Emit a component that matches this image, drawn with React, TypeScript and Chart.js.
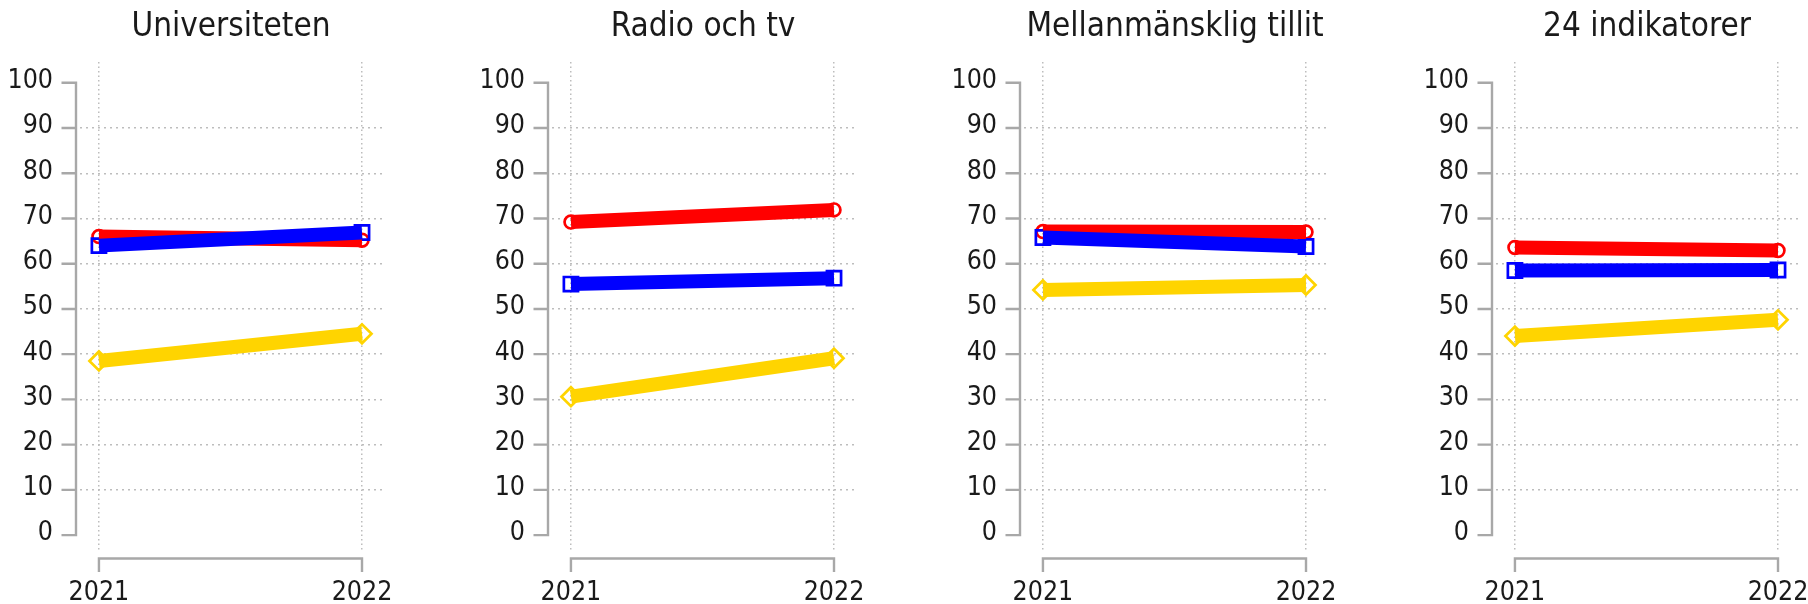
import React, { useEffect, useRef } from "react";
import { Chart, registerables } from "chart.js";
Chart.register(...registerables);

const titles = ["Universiteten", "Radio och tv", "Mellanmänsklig tillit", "24 indikatorer"];
const years = [2021, 2022];
const redSeries = [[66.0, 65.2], [69.2, 71.9], [67.1, 67.0], [63.6, 62.9]];
const blueSeries = [[64.0, 66.9], [55.5, 56.8], [65.8, 63.8], [58.5, 58.6]];
const yellowSeries = [[38.5, 44.5], [30.6, 39.1], [54.2, 55.3], [44.0, 47.6]];
const yTicks = [0, 10, 20, 30, 40, 50, 60, 70, 80, 90, 100];

const FONT = "'Liberation Sans Narrow', 'DejaVu Sans Condensed', 'Roboto', sans-serif";
const PANEL_W = 472;
const TOTAL_W = 1808;
const H = 604;
const AREA_RIGHT = 382;
const TEXT = "#1a1a1a";
const SPINE = "#a8a8a8";
const GRID = "#bdbdbd";

const COLORS = { red: "#ff0000", blue: "#0000ff", yellow: "#ffd400" };

const spinePlugin = {
  id: "spines",
  beforeDatasetsDraw(chart: any) {
    const { ctx, chartArea, scales } = chart;
    const x = scales.x;
    const y = scales.y;
    ctx.save();
    ctx.strokeStyle = SPINE;
    ctx.lineWidth = 2.4;
    ctx.lineCap = "butt";
    const sx = chartArea.left - 4;
    const yTop = y.getPixelForValue(yTicks[yTicks.length - 1]);
    const yBot = y.getPixelForValue(yTicks[0]);
    ctx.beginPath();
    ctx.moveTo(sx, yTop - 1.2);
    ctx.lineTo(sx, yBot + 1.2);
    yTicks.forEach((t) => {
      const py = y.getPixelForValue(t);
      ctx.moveTo(sx - 14.5, py);
      ctx.lineTo(sx, py);
    });
    ctx.stroke();
    const sy = chartArea.bottom + 8.5;
    const xl = x.getPixelForValue(years[0]);
    const xr = x.getPixelForValue(years[years.length - 1]);
    ctx.beginPath();
    ctx.moveTo(xl - 1.2, sy);
    ctx.lineTo(xr + 1.2, sy);
    years.forEach((yr) => {
      const px = x.getPixelForValue(yr);
      ctx.moveTo(px, sy);
      ctx.lineTo(px, sy + 13.5);
    });
    ctx.stroke();
    ctx.restore();
  },
};

function lineSet(label: string, values: number[], color: string, order: number) {
  return {
    label,
    data: values.map((v, i) => ({ x: years[i], y: v })),
    borderColor: color,
    backgroundColor: color,
    borderWidth: 14,
    pointRadius: 0,
    order,
    clip: false as any,
  };
}

function markerSet(label: string, values: number[], color: string, style: string, radius: number, order: number) {
  return {
    label,
    data: values.map((v, i) => ({ x: years[i], y: v })),
    showLine: false,
    pointStyle: style,
    pointRadius: radius,
    pointBorderWidth: 2.7,
    pointBorderColor: color,
    pointBackgroundColor: "rgba(0,0,0,0)",
    order,
    clip: false as any,
  };
}

function Panel({ index }: { index: number }) {
  const ref = useRef<HTMLCanvasElement | null>(null);
  const w = PANEL_W;
  useEffect(() => {
    if (!ref.current) return;
    const chart = new Chart(ref.current, {
      type: "line",
      data: {
        datasets: [
          lineSet("Röd", redSeries[index], COLORS.red, 3),
          lineSet("Blå", blueSeries[index], COLORS.blue, 2),
          lineSet("Gul", yellowSeries[index], COLORS.yellow, 1),
          markerSet("Röd markör", redSeries[index], COLORS.red, "circle", 6.4, 12),
          markerSet("Blå markör", blueSeries[index], COLORS.blue, "rect", 10, 11),
          markerSet("Gul markör", yellowSeries[index], COLORS.yellow, "rectRot", 9.5, 10),
        ] as any,
      },
      options: {
        animation: false,
        responsive: false,
        devicePixelRatio: 1,
        events: [],
        layout: { padding: { left: 0, right: w - AREA_RIGHT, top: 0, bottom: 0 } },
        plugins: {
          legend: { display: false },
          tooltip: { enabled: false },
          title: {
            display: true,
            text: titles[index],
            fullSize: false,
            color: TEXT,
            font: { family: FONT, size: 33, weight: "normal" as any, lineHeight: 1.2 },
            padding: { top: 8, bottom: 14.4 },
          },
        },
        scales: {
          x: {
            type: "linear",
            min: 2020.928,
            max: 2022.076,
            afterBuildTicks: (s: any) => {
              s.ticks = years.map((v) => ({ value: v }));
            },
            afterFit: (s: any) => {
              s.height = 54;
            },
            grid: {
              color: GRID,
              lineWidth: 1.5,
              drawTicks: false,
            },
            border: { display: false, dash: [1.5, 3] },
            ticks: {
              color: TEXT,
              font: { family: FONT, size: 26.5 },
              padding: 27,
              maxRotation: 0,
              autoSkip: false,
              callback: (v: any) => String(v),
            },
          },
          y: {
            type: "linear",
            min: -3.3,
            max: 104.6,
            afterBuildTicks: (s: any) => {
              s.ticks = yTicks.map((v) => ({ value: v }));
            },
            afterFit: (s: any) => {
              s.width = 80;
            },
            grid: {
              color: (c: any) =>
                c.tick && (c.tick.value === yTicks[0] || c.tick.value === yTicks[yTicks.length - 1])
                  ? "rgba(0,0,0,0)"
                  : GRID,
              lineWidth: 1.5,
              drawTicks: false,
            },
            border: { display: false, dash: [2, 4] },
            ticks: {
              color: TEXT,
              font: { family: FONT, size: 26.5 },
              padding: 27,
              labelOffset: -1.5,
              autoSkip: false,
              callback: (v: any) => String(v),
            },
          },
        },
      } as any,
      plugins: [spinePlugin],
    });
    return () => chart.destroy();
  }, [index, w]);
  return (
    <div style={{ position: "absolute", left: index * PANEL_W, top: 0, width: w, height: H }}>
      <canvas ref={ref} width={w} height={H} style={{ width: w, height: H, display: "block" }} />
    </div>
  );
}

export default function App() {
  useEffect(() => {
    document.body.style.margin = "0";
    document.body.style.background = "#ffffff";
  }, []);
  return (
    <div style={{ position: "relative", width: TOTAL_W, height: H, overflow: "hidden", background: "#fff" }}>
      {titles.map((_, i) => (
        <Panel key={i} index={i} />
      ))}
    </div>
  );
}
